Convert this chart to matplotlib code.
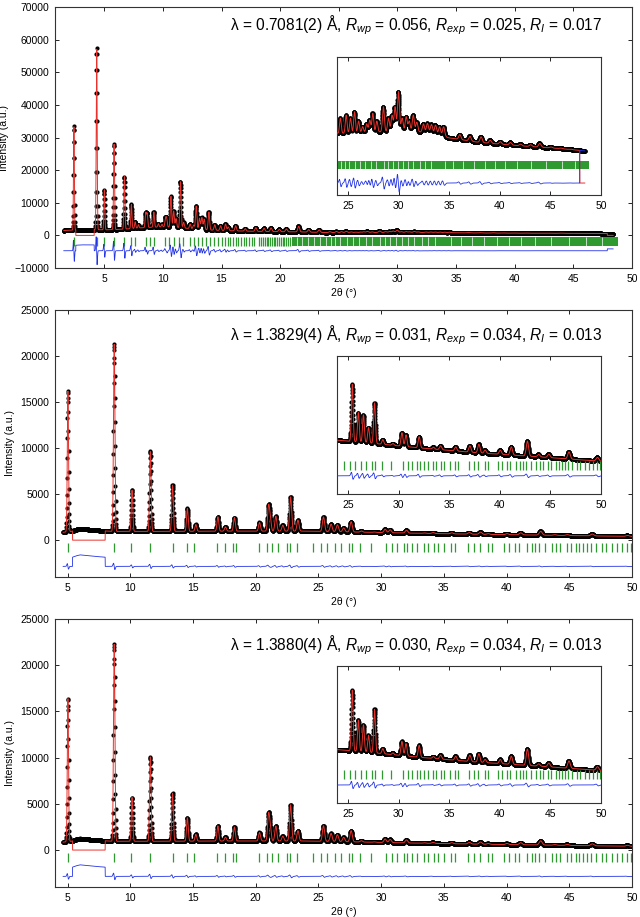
import numpy as np
import matplotlib
matplotlib.use("Agg")
import matplotlib.pyplot as plt

plt.rcParams['font.family'] = ['Liberation Sans', 'DejaVu Sans']
plt.rcParams['mathtext.fontset'] = 'custom'
plt.rcParams['mathtext.rm'] = 'Liberation Sans'
plt.rcParams['mathtext.it'] = 'Liberation Sans:italic'

RED = '#e8322b'
BLUE = '#2233e6'
GREEN = '#2e9a30'

# ---------------- panel 1 : lambda = 0.7081(2) A ----------------
p1_range = (1.55, 48.4)
p1_excluded = [(2.58, 4.15), (47.9, 48.4)]
p1_bg_x = [1.55, 2.2, 3.0, 4.0, 5.0, 6.0, 7.0, 8.0, 9.0, 10.0, 11.0, 12.0, 13.0,
           14.0, 16.0, 18.0, 20.0, 22.0, 24.0, 27.0, 30.0, 33.0, 35.0, 38.0,
           42.0, 46.0, 48.4]
p1_bg_y = [1500, 1600, 1800, 1800, 1700, 1800, 2000, 2300, 2500, 2600, 2500, 2200,
           1900, 1650, 1400, 1250, 1150, 1050, 880, 900, 920, 900, 800, 720,
           660, 610, 570]
p1_peak_pos = [2.41, 4.35, 5.0, 5.83, 6.71, 7.3, 7.62, 7.9, 8.52, 8.64, 9.21, 9.6,
               9.9, 10.2, 10.3, 10.67, 10.9, 11.1, 11.49, 11.75, 12.3, 12.6, 12.82,
               13.1, 13.3, 13.5, 13.9, 14.4, 14.9, 15.32, 15.55, 16.18, 17.0, 17.9,
               18.6, 19.2, 19.9, 20.5, 21.55, 22.4, 23.3, 24.2, 24.77, 25.2, 25.6,
               26.0, 26.4, 26.8, 27.1, 27.4, 27.8, 28.45, 28.95, 29.3, 29.6, 29.94,
               30.3, 30.7, 31.0, 31.4, 31.75, 32.4, 32.8, 33.2, 33.6, 34.0, 34.4,
               36.0, 37.0, 38.1, 39.0, 40.0, 41.0, 42.0, 43.0, 43.9, 45.0, 46.0, 47.0]
p1_peak_top = [33500, 57500, 14000, 28000, 18000, 9500, 4200, 3300, 6900, 6700, 7200,
               3600, 3400, 5100, 5100, 12000, 7500, 5200, 16500, 4000, 3500, 3200,
               9000, 5300, 5500, 5000, 7200, 3300, 3000, 3500, 2600, 3000, 2100, 2400,
               2200, 2300, 1900, 2000, 2800, 1800, 1700, 1150, 1205, 1150, 1265,
               1100, 1000, 1050, 1117, 1235, 1100, 1353, 1150, 1200, 1353, 1620,
               1150, 1176, 1100, 1205, 1080, 1050, 1058, 1040, 1030, 1000, 1000,
               860, 830, 820, 760, 733, 720, 690, 680, 703, 640, 620, 600]
p1_ticks = [2.41, 4.35, 5.0, 5.83, 6.68, 7.28, 7.62, 8.53, 8.87, 9.21, 10.18, 10.55,
            10.95, 11.35, 11.72, 12.31, 12.65, 13.02, 13.34, 13.68, 14.02, 14.36,
            14.73, 15.0, 15.3, 15.53, 15.75, 15.98, 16.2, 16.44, 16.67, 16.89, 17.12,
            17.35, 17.57, 17.8, 18.2, 18.4, 18.55, 18.7, 18.85, 19.0, 19.15, 19.3,
            19.45, 19.6, 19.75, 19.9, 20.05, 20.2, 20.35, 20.5, 20.65, 20.8]
p1_band = (21.0, 48.8)
p1_band_gaps = [21.4, 21.9, 22.4, 22.9, 23.4, 23.9, 24.3, 24.7, 25.1, 25.7, 26.2,
                26.7, 27.3, 27.8, 28.5, 28.95, 29.4, 29.9, 30.4, 30.9, 31.4, 32.1,
                32.6, 33.2, 34.55, 35.4, 36.4, 37.4, 38.5, 39.5, 40.5, 41.7, 43.1,
                44.6, 46.1, 47.4]

# ---------------- panels 2 and 3 : lambda = 1.3829(4) / 1.3880(4) A ----------------
p23_range = (4.65, 50.0)
p23_excluded = [(5.4, 8.0)]
p23_bg_x = [4.65, 5.3, 5.7, 6.0, 6.5, 7.0, 7.5, 8.5, 12.0, 18.0, 24.0, 28.0, 32.0,
            38.0, 44.0, 50.0]
p23_bg_y = [850, 950, 1150, 1250, 1180, 1100, 1050, 950, 950, 980, 980, 880, 770,
            630, 520, 400]
p23_peak_pos = [5.03, 8.72, 10.14, 11.6, 13.37, 14.55, 15.22, 16.98, 17.58, 18.3,
                20.3, 21.02, 21.15, 21.6, 22.15, 22.78, 23.36, 25.4, 26.0, 26.5,
                27.0, 27.6, 28.4, 29.4, 30.3, 30.7, 32.0, 33.4, 34.1, 35.6, 37.0,
                37.9, 38.5, 40.0, 41.1, 42.7, 43.8, 44.8, 46.8, 49.6]
p2_peak_top = [16200, 21300, 5430, 9640, 5980, 3440, 1700, 2540, 1450, 2460, 1920,
               3550, 2200, 2600, 1630, 4700, 2170, 2520, 1740, 1680, 1330, 2010,
               1000, 890, 1190, 1130, 1080, 790, 830, 800, 830, 870, 710, 710, 800,
               960, 590, 600, 660, 510]
p3_peak_top = [16400, 22300, 5700, 10100, 6150, 3500, 1700, 2620, 1400, 2500, 1900,
               3700, 2300, 2600, 1500, 4900, 2100, 2630, 1800, 1670, 1380, 2100,
               1010, 890, 1210, 1150, 1100, 790, 830, 800, 830, 870, 710, 710, 800,
               1000, 590, 610, 670, 510]
p23_ticks = [5.0, 8.72, 10.1, 11.59, 13.37, 14.51, 15.1, 16.95, 17.54, 18.23, 18.42,
             20.27, 20.94, 21.33, 21.81, 22.53, 22.74, 23.33, 24.6, 25.2, 25.7, 26.3,
             26.8, 27.4, 27.7, 28.3, 29.2, 30.4, 30.9, 31.3, 31.8, 32.1, 32.5, 32.9,
             33.4, 33.7, 34.2, 34.5, 35.05, 35.6, 35.9, 36.9, 37.4, 37.85, 38.5, 38.8,
             39.8, 40.2, 40.7, 41.0, 41.6, 42.0, 42.3, 42.6, 43.1, 43.6, 43.95, 44.3,
             44.8, 45.1, 45.5, 45.8, 46.1, 46.4, 46.75, 47.1, 47.6, 47.9, 48.4, 48.8,
             49.2, 49.6, 49.9]

labels = [r"λ = 0.7081(2) Å, $R_{wp}$ = 0.056, $R_{exp}$ = 0.025, $R_I$ = 0.017",
          r"λ = 1.3829(4) Å, $R_{wp}$ = 0.031, $R_{exp}$ = 0.034, $R_I$ = 0.013",
          r"λ = 1.3880(4) Å, $R_{wp}$ = 0.030, $R_{exp}$ = 0.034, $R_I$ = 0.013"]


def model(x, pos, top, bg_x, bg_y, s0, s1, c, excluded):
    # observed and calculated profiles built from the read peak list
    bg = np.interp(x, bg_x, bg_y)
    obs = bg.copy()
    calc = bg.copy()
    for p, t in zip(pos, top):
        a = max(t - np.interp(p, bg_x, bg_y), 1.0)
        s = s0 + s1 * p
        d = s * min(0.4, c / np.sqrt(a))
        obs += a * np.exp(-0.5 * ((x - p) / s) ** 2)
        calc += a * np.exp(-0.5 * ((x - p - d) / s) ** 2)
    for lo, hi in excluded:
        calc[(x > lo) & (x < hi)] = 0
    return obs, calc


def style(ax, fs=7.5):
    ax.tick_params(direction='in', top=True, right=True, length=3, width=0.6,
                   labelsize=fs, pad=4)
    for sp in ax.spines.values():
        sp.set_linewidth(0.8)
        sp.set_color('#333333')


def draw(ax, x, obs, calc, off, ticks, t_lo, t_hi, band=None, gaps=None):
    ax.plot(x, obs, 'o', color='black', ms=3.0, mew=0, zorder=2)
    ax.plot(x, calc, color=RED, lw=0.7, zorder=3)
    ax.plot(x, obs - calc + off, color=BLUE, lw=0.6, zorder=3)
    ax.vlines(ticks, t_lo, t_hi, color=GREEN, lw=0.9, zorder=2)
    if band is not None:
        ax.fill_between(band, t_lo, t_hi, color=GREEN, lw=0, zorder=2)
        ax.vlines(gaps, t_lo, t_hi, color='white', lw=0.5, zorder=2)


fig = plt.figure(figsize=(6.4, 9.17), dpi=100)

x1 = np.arange(p1_range[0], p1_range[1], 0.01)
obs1, calc1 = model(x1, p1_peak_pos, p1_peak_top, p1_bg_x, p1_bg_y, 0.03, 0.0022, 30,
                    p1_excluded)
x23 = np.arange(p23_range[0], p23_range[1], 0.012)
obs2, calc2 = model(x23, p23_peak_pos, p2_peak_top, p23_bg_x, p23_bg_y, 0.04, 0.0018, 4,
                    p23_excluded)
obs3, calc3 = model(x23, p23_peak_pos, p3_peak_top, p23_bg_x, p23_bg_y, 0.04, 0.0018, 4,
                    p23_excluded)

main_boxes = [[0.0859, 0.7077, 0.9016, 0.2846],
              [0.0859, 0.3708, 0.9016, 0.2912],
              [0.0859, 0.0327, 0.9016, 0.2923]]
inset_boxes = [[0.5266, 0.7873, 0.4125, 0.1505],
               [0.5266, 0.4613, 0.4125, 0.1505],
               [0.5266, 0.1243, 0.4125, 0.1494]]
text_y = [0.931, 0.906, 0.903]

panels = [(x1, obs1, calc1, -4700, p1_ticks, -400, -3100, (0.8, 50), (-10000, 70000),
           np.arange(-10000, 70001, 10000), (-213, 2234), 250, 390),
          (x23, obs2, calc2, -2850, p23_ticks, -300, -1300, (4, 50), (-4000, 25000),
           np.arange(0, 25001, 5000), (-500, 3300), 165, 415),
          (x23, obs3, calc3, -2850, p23_ticks, -300, -1300, (4, 50), (-4000, 25000),
           np.arange(0, 25001, 5000), (-500, 3300), 165, 415)]

for i, (x, obs, calc, off, ticks, t_lo, t_hi, xl, yl, yt, iyl, it_lo, it_hi) in enumerate(panels):
    ax = fig.add_axes(main_boxes[i])
    if i == 0:
        draw(ax, x, obs, calc, off, ticks, t_lo, t_hi, p1_band, p1_band_gaps)
    else:
        draw(ax, x, obs, calc, off, ticks, t_lo, t_hi)
    ax.set_xlim(*xl)
    ax.set_ylim(*yl)
    ax.set_xticks(np.arange(5, 51, 5))
    ax.set_yticks(yt)
    style(ax)
    ax.set_xlabel("2θ (°)", fontsize=7.5, labelpad=3)
    ax.set_ylabel("Intensity (a.u.)", fontsize=7.5, labelpad=4)
    ax.text(0.948, text_y[i], labels[i], transform=ax.transAxes, ha='right',
            va='center', fontsize=11.2, zorder=5)

    ins = fig.add_axes(inset_boxes[i])
    if i == 0:
        draw(ins, x, obs, calc, 0, ticks, it_lo, it_hi, (23.9, p1_band[1]), p1_band_gaps)
    else:
        draw(ins, x, obs, calc, 0, ticks, it_lo, it_hi)
    ins.set_xlim(23.9, 50)
    ins.set_ylim(*iyl)
    ins.set_xticks(np.arange(25, 51, 5))
    ins.set_yticks([])
    style(ins)
    ins.tick_params(right=False, left=False)

fig.savefig("out.png", dpi=100)
